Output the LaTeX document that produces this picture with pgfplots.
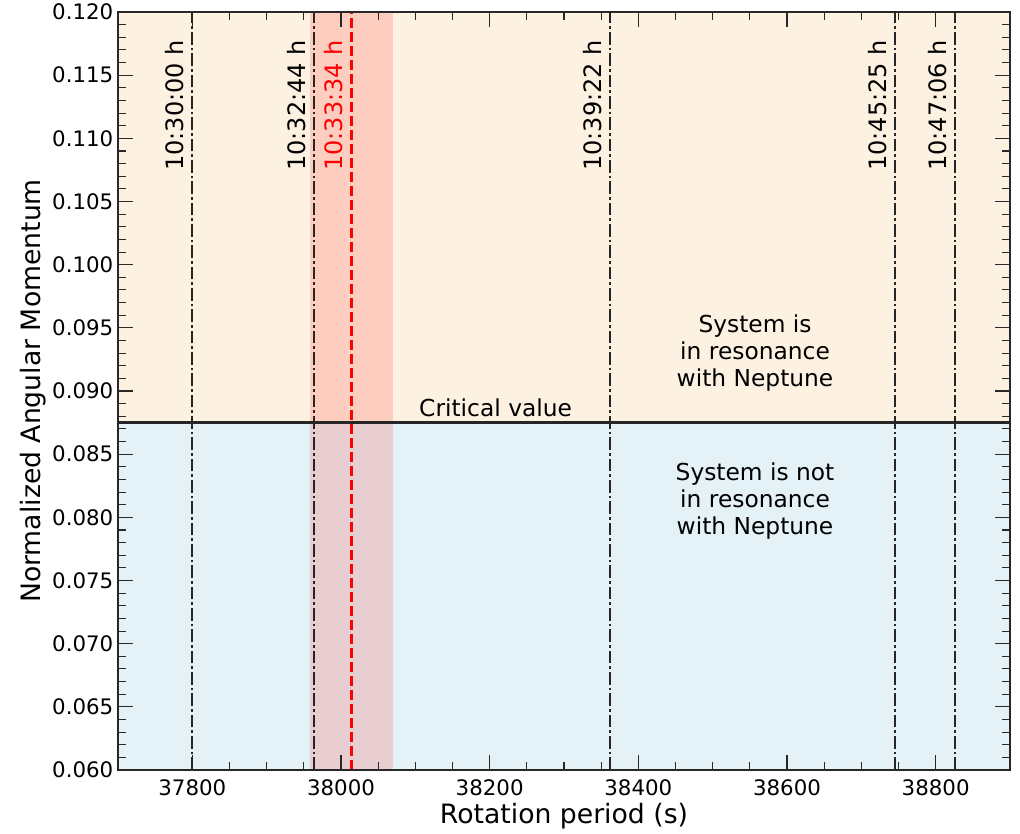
\documentclass[border=0pt]{standalone}
\usepackage{pgfplots}
\pgfplotsset{compat=1.18}
\usepackage{fontspec}
\setmainfont{DejaVu Sans}

\definecolor{upperbg}{RGB}{253,242,226}
\definecolor{lowerbg}{RGB}{228,241,246}
\definecolor{framegray}{RGB}{40,40,40}

\tikzset{
  dashdot/.style={black!85, line width=1.5pt, dash pattern=on 9.5pt off 2.25pt on 2pt off 2.25pt},
  rotlabel/.style={rotate=90, anchor=south east, inner xsep=0pt, inner ysep=6pt,
                   font=\fontsize{18}{21}\selectfont},
}

\begin{document}
\begin{tikzpicture}[font=\fontsize{16}{19}\selectfont]
\useasboundingbox (-88.5pt,-47.25pt) rectangle (676.5pt,577.5pt);
\begin{axis}[
  scale only axis, width=669pt, height=568.5pt,
  at={(0pt,0pt)}, anchor=south west,
  xmin=37700, xmax=38900, ymin=0.06, ymax=0.12,
  xtick={37800,38000,38200,38400,38600,38800}, minor x tick num=3,
  ytick={0.060,0.065,0.070,0.075,0.080,0.085,0.090,0.095,0.100,0.105,0.110,0.115,0.120},
  minor y tick num=4,
  scaled x ticks=false, scaled y ticks=false,
  tick align=inside,
  major tick length=11pt, minor tick length=6pt,
  every tick/.style={framegray, line width=0.8pt},
  axis line style={framegray, line width=0.9pt},
  axis on top,
  /pgf/number format/assume math mode=true,
  xticklabel style={/pgf/number format/1000 sep={}, yshift=-4pt},
  yticklabel style={/pgf/number format/.cd, fixed, fixed zerofill, precision=3},
]
% background regions above and below the critical value
\addplot[fill=upperbg, draw=none] coordinates {(37700,0.0875) (38900,0.0875) (38900,0.12) (37700,0.12)} -- cycle;
\addplot[fill=lowerbg, draw=none] coordinates {(37700,0.06) (38900,0.06) (38900,0.0875) (37700,0.0875)} -- cycle;
% uncertainty band around the measured period
\addplot[fill=red, fill opacity=0.15, draw=none] coordinates {(37958,0.06) (38070,0.06) (38070,0.12) (37958,0.12)} -- cycle;

% candidate rotation periods
\addplot[dashdot] coordinates {(37800,0.06) (37800,0.12)};
\addplot[dashdot] coordinates {(37964,0.06) (37964,0.12)};
\addplot[dashdot] coordinates {(38362,0.06) (38362,0.12)};
\addplot[dashdot] coordinates {(38745,0.06) (38745,0.12)};
\addplot[dashdot] coordinates {(38826,0.06) (38826,0.12)};
% measured period
\addplot[red, line width=1.9pt, dash pattern=on 7.5pt off 3pt] coordinates {(38014,0.06) (38014,0.12)};

% critical value
\addplot[black!85, line width=1.8pt] coordinates {(37700,0.0875) (38900,0.0875)};

\node[rotlabel] at (axis cs:37800,0.1178) {10:30:00 h};
\node[rotlabel] at (axis cs:37964,0.1178) {10:32:44 h};
\node[rotlabel, text=red] at (axis cs:38014,0.1178) {10:33:34 h};
\node[rotlabel] at (axis cs:38362,0.1178) {10:39:22 h};
\node[rotlabel] at (axis cs:38745,0.1178) {10:45:25 h};
\node[rotlabel] at (axis cs:38826,0.1178) {10:47:06 h};

\node[font=\fontsize{17.5}{20}\selectfont] at (axis cs:38208,0.0887) {Critical value};
\node[align=center, font=\fontsize{17.5}{20}\selectfont] at (axis cs:38557,0.0930) {System is\\in resonance\\with Neptune};
\node[align=center, font=\fontsize{17.5}{20}\selectfont] at (axis cs:38557,0.0813) {System is not\\in resonance\\with Neptune};
\end{axis}
\node[font=\fontsize{20}{24}\selectfont] at (334.5pt,-34.5pt) {Rotation period (s)};
\node[rotate=90, font=\fontsize{20}{24}\selectfont] at (-63.75pt,284.25pt) {Normalized Angular Momentum};
\end{tikzpicture}
\end{document}
